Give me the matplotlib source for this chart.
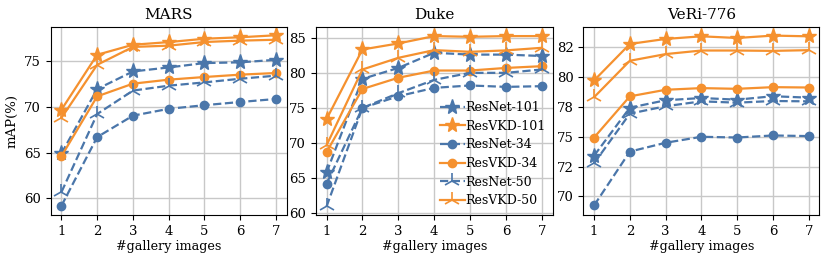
from matplotlib import pyplot as plt
from matplotlib.ticker import FormatStrFormatter, MultipleLocator
import numpy as np

plt.rcParams['font.family'] = 'DejaVu Serif'

gallery = [1, 2, 3, 4, 5, 6, 7]
names = ["ResNet-101", "ResVKD-101", "ResNet-34", "ResVKD-34", "ResNet-50", "ResVKD-50"]

mars = {
    "ResNet-101": [64.9, 71.97, 73.9, 74.34, 74.82, 74.9, 75.18],
    "ResVKD-101": [69.7, 75.73, 76.83, 77.12, 77.49, 77.65, 77.87],
    "ResNet-34": [59.16, 66.7, 69.05, 69.8, 70.2, 70.55, 70.88],
    "ResVKD-34": [64.6, 71.17, 72.56, 73.0, 73.29, 73.55, 73.73],
    "ResNet-50": [60.66, 69.23, 71.8, 72.34, 72.7, 73.1, 73.44],
    "ResVKD-50": [68.8, 74.63, 76.59, 76.73, 77.13, 77.28, 77.38],
}
duke = {
    "ResNet-101": [65.8, 79.14, 80.7, 82.86, 82.6, 82.6, 82.4],
    "ResVKD-101": [73.4, 83.33, 84.19, 85.24, 85.14, 85.24, 85.24],
    "ResNet-34": [64.2, 75.0, 76.67, 77.86, 78.2, 78.0, 78.1],
    "ResVKD-34": [68.7, 77.7, 79.3, 80.33, 80.33, 80.7, 80.95],
    "ResNet-50": [60.95, 75.0, 77.1, 79.0, 80.0, 80.0, 80.48],
    "ResVKD-50": [69.67, 80.48, 82.14, 83.24, 83.0, 83.2, 83.57],
}
veri = {
    "ResNet-101": [73.42, 77.44, 78.06, 78.25, 78.11, 78.4, 78.28],
    "ResVKD-101": [79.72, 82.78, 83.2, 83.42, 83.28, 83.48, 83.42],
    "ResNet-34": [69.25, 73.76, 74.5, 75.0, 74.94, 75.11, 75.06],
    "ResVKD-34": [74.94, 78.39, 78.94, 79.08, 79.02, 79.16, 79.13],
    "ResNet-50": [72.78, 76.94, 77.56, 77.97, 77.86, 78.0, 77.97],
    "ResVKD-50": [78.32, 81.37, 81.93, 82.23, 82.23, 82.2, 82.26],
}

blue = "#4a76aa"
orange = "#f5912f"
style = {
    "ResNet-101": dict(color=blue, ls="--", marker="*", ms=11),
    "ResVKD-101": dict(color=orange, ls="-", marker="*", ms=11),
    "ResNet-34": dict(color=blue, ls="--", marker="o", ms=6),
    "ResVKD-34": dict(color=orange, ls="-", marker="o", ms=6),
    "ResNet-50": dict(color=blue, ls="--", marker="2", ms=12, mew=1.2),
    "ResVKD-50": dict(color=orange, ls="-", marker="2", ms=12, mew=1.2),
}

fig = plt.figure(figsize=(8.31, 2.62), dpi=100)
panels = [
    ("MARS", mars, [0.061, 0.18, 0.284, 0.716], (58.17, 78.75), 5),
    ("Duke", duke, [0.380, 0.18, 0.285, 0.716], (59.76, 86.5), 5),
    ("VeRi-776", veri, [0.702, 0.18, 0.284, 0.716], (68.46, 84.18), 2.5),
]
for title, data, pos, ylim, step in panels:
    ax = fig.add_axes(pos)
    for n in names:
        ax.plot(gallery, data[n], lw=1.6, label=n, **style[n])
    ax.set_title(title, fontsize=11)
    ax.set_xlabel("#gallery images", fontsize=9.2, labelpad=2)
    ax.set_ylim(*ylim)
    ax.set_xlim(0.7, 7.3)
    ax.set_xticks(gallery)
    ax.yaxis.set_major_locator(MultipleLocator(step))
    ax.yaxis.set_major_formatter(FormatStrFormatter('%.0f'))
    ax.grid(True, color="#c8c8c8", lw=1)
    ax.set_axisbelow(True)
    ax.tick_params(labelsize=9.5)
    if title == "MARS":
        ax.set_ylabel("mAP(%)", fontsize=9.5)
    if title == "Duke":
        ax.legend(loc="lower right", frameon=False, fontsize=9,
                  handlelength=2.0, handletextpad=0.0, labelspacing=0.45,
                  borderaxespad=0.2)

plt.savefig("out.png", dpi=100)
